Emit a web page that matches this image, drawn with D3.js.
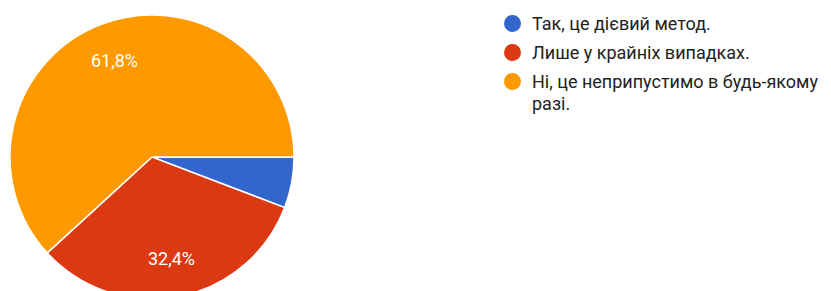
<!DOCTYPE html>
<html>
<head>
<meta charset="utf-8">
<script src="https://cdn.jsdelivr.net/npm/d3@7"></script>
<style>
  body { margin: 0; background: #fff; }
  svg { display: block; }
</style>
</head>
<body>
<div class="canvas"></div>
<script>
const categories = ['Так, це дієвий метод.', 'Лише у крайніх випадках.', 'Ні, це неприпустимо в будь-якому разі.'];
const values = [5.8, 32.4, 61.8];
const labels = ['', '32,4%', '61,8%'];
const colors = ['#3366cc', '#dc3912', '#ff9900'];
// legend lines after wrapping
const legendLines = [['Так, це дієвий метод.'], ['Лише у крайніх випадках.'], ['Ні, це неприпустимо в будь-якому', 'разі.']];

const width = 831;
const height = 291;
const radius = 142;

const svg = d3.select('.canvas')
    .append('svg')
    .attr('width', width)
    .attr('height', height);

const graph = svg.append('g')
    .attr('transform', `translate(152, 157)`);

const pie = d3.pie()
    .sort(null)
    .startAngle(Math.PI / 2)
    .endAngle(Math.PI / 2 + 2 * Math.PI);

const arc = d3.arc().innerRadius(0).outerRadius(radius);
const labelArc = d3.arc().innerRadius(radius * 0.73).outerRadius(radius * 0.73);

const slices = pie(values);

graph.selectAll('path')
    .data(slices)
    .enter()
    .append('path')
    .attr('d', arc)
    .attr('fill', (d, i) => colors[i])
    .attr('stroke', '#fff')
    .attr('stroke-width', 1.5);

graph.selectAll('text')
    .data(slices)
    .enter()
    .append('text')
    .attr('transform', d => `translate(${labelArc.centroid(d)})`)
    .attr('text-anchor', 'middle')
    .attr('dy', '0.35em')
    .attr('fill', '#fff')
    .style('font-family', 'Roboto, Arial, sans-serif')
    .style('font-size', '18px')
    .text((d, i) => labels[i]);

// legend
const legend = svg.append('g')
    .attr('transform', 'translate(512.5, 23.5)');

const rows = legend.selectAll('g')
    .data(categories)
    .enter()
    .append('g')
    .attr('transform', (d, i) => `translate(0, ${i * 29})`);

rows.append('circle')
    .attr('r', 8.5)
    .attr('fill', (d, i) => colors[i]);

rows.append('text')
    .attr('dy', '0.35em')
    .attr('fill', '#222')
    .style('font-family', 'Roboto, Arial, sans-serif')
    .style('font-size', '18px')
    .selectAll('tspan')
    .data((d, i) => legendLines[i])
    .enter()
    .append('tspan')
    .attr('x', 19.5)
    .attr('y', (d, j) => j * 28)
    .text(d => d);
</script>
</body>
</html>
